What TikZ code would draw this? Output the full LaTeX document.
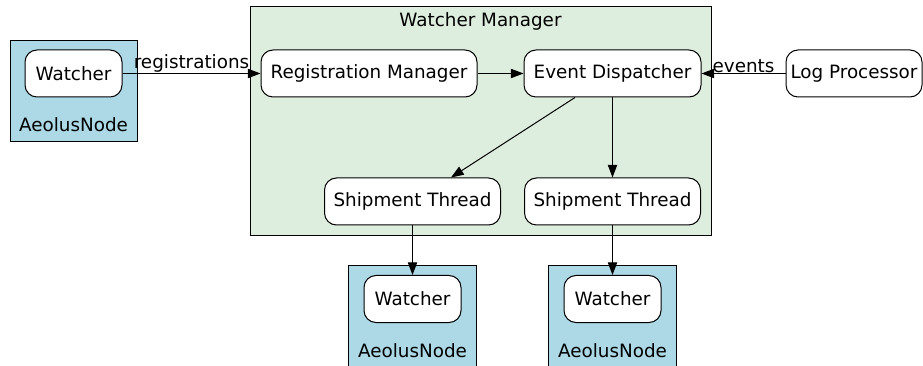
\documentclass[tikz,border=0pt]{standalone}
\usepackage{fontspec}
\setmainfont{DejaVu Sans}
\usepackage{tikz}
\usetikzlibrary{arrows.meta,positioning,shapes}
\definecolor{aeolusblue}{HTML}{ADD8E6}
\definecolor{managergreen}{HTML}{DEEEDE}

\begin{document}
\begin{tikzpicture}[
  x=0.75pt, y=-0.75pt,
  every node/.style={font=\fontsize{13.75}{16}\selectfont},
  proc/.style={draw, rounded corners=9pt, fill=white, line width=0.75pt, minimum height=35.25pt, inner sep=0pt},
  cluster/.style={draw, line width=0.7pt, inner sep=0pt},
  edge/.style={-{Triangle[length=9.5pt, width=7pt]}, line width=0.75pt},
  elabel/.style={above, inner sep=0.5pt}
]
\useasboundingbox (0,0) rectangle (923,366);

% --- Clusters ---
\node[cluster, fill=aeolusblue, minimum width=95.25pt, minimum height=75.75pt] (an1) at (73.5,90.5) {};
\node[cluster, fill=managergreen, minimum width=345.75pt, minimum height=171.75pt] (wm) at (480.5,120.5) {};
\node[cluster, fill=aeolusblue, minimum width=96pt, minimum height=75.75pt] (an2) at (412.5,315.5) {};
\node[cluster, fill=aeolusblue, minimum width=96pt, minimum height=75.75pt] (an3) at (612.5,315.5) {};

\node (an1lbl) at (73.5,125) {AeolusNode};
\node (wmlbl)  at (480.5,21) {Watcher Manager};
\node (an2lbl) at (412.5,351) {AeolusNode};
\node (an3lbl) at (612.5,351) {AeolusNode};

% --- Nodos ---
\node[proc, minimum width=72.75pt] (w1) at (73.5,73.5) {Watcher};
\node[proc, minimum width=162pt] (rm) at (369,73.5) {Registration Manager};
\node[proc, minimum width=132.75pt] (ed) at (612.5,73.5) {Event Dispatcher};
\node[proc, minimum width=102pt] (lp) at (854,73.5) {Log Processor};
\node[proc, minimum width=132pt] (st1) at (412.5,201.5) {Shipment Thread};
\node[proc, minimum width=132pt] (st2) at (612.5,201.5) {Shipment Thread};
\node[proc, minimum width=72.75pt] (w2) at (412.5,299) {Watcher};
\node[proc, minimum width=72.75pt] (w3) at (612.5,299) {Watcher};

% --- Aristas ---
\draw[edge] (w1) -- node[elabel] {registrations} (rm);
\draw[edge] (rm) -- (ed);
\draw[edge] (lp) -- node[elabel] {events} (ed);
\draw[edge] (ed.south -| 575,0) -- (st1.north -| 451,0);
\draw[edge] (ed) -- (st2);
\draw[edge] (st1) -- (w2);
\draw[edge] (st2) -- (w3);
\end{tikzpicture}
\end{document}
